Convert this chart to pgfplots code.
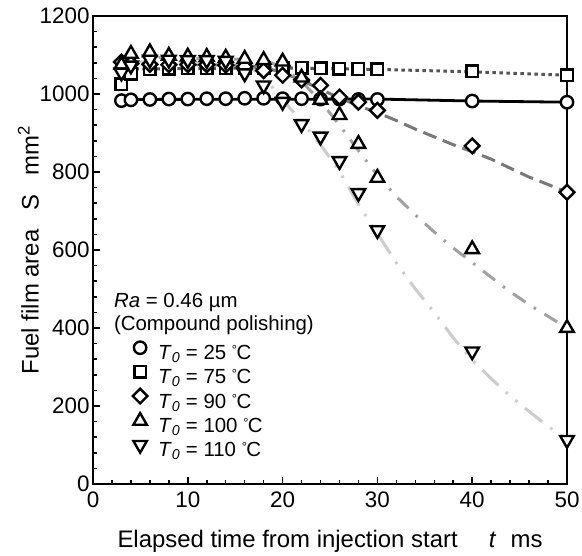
\documentclass[border=0pt]{standalone}
\usepackage{pgfplots}
\pgfplotsset{compat=1.18}
\usepackage{fontspec}
\setmainfont{Liberation Sans}
\newcommand{\degC}{\raisebox{5bp}{\fontsize{13}{13}\selectfont °}\kern-0.5bp C}
\newcommand{\Tz}{\textit{T}\textsubscript{\textit{0}}}
\definecolor{c75}{gray}{0.33}
\definecolor{c90}{gray}{0.47}
\definecolor{c100}{gray}{0.63}
\definecolor{c110}{gray}{0.80}
\begin{document}
\begin{tikzpicture}
\useasboundingbox (-93bp,-72bp) rectangle (489bp,484bp);
\begin{axis}[
  width=474bp, height=468bp, scale only axis,
  xmin=0, xmax=50, ymin=0, ymax=1200,
  xtick={0,10,...,50}, ytick={0,200,...,1200},
  minor x tick num=4, minor y tick num=4,
  xtick pos=bottom, ytick pos=left,
  tick align=inside,
  major tick length=7bp, minor tick length=4bp,
  axis line style={line width=2.4bp},
  tick style={line width=1.5bp, black},
  tick label style={font=\fontsize{22.5}{26}\selectfont},
  xticklabel style={yshift=-4bp},
  /pgf/number format/assume math mode=true,
  /pgf/number format/1000 sep={},
  label style={font=\fontsize{24}{28}\selectfont},
  xlabel style={yshift=-16bp},
  ylabel style={yshift=-6bp},
  xlabel={Elapsed time from injection start\hspace{1.3em}\textit{t}\hspace{0.6em}ms},
  ylabel={Fuel film area\hspace{0.8em}S\hspace{0.8em}mm\textsuperscript{2}},
  clip=false,
  legend style={at={(axis description cs:0.080,0.3066)}, anchor=north west,
    draw=none, fill=none, inner sep=0pt, font=\fontsize{20.5}{25}\selectfont,
    nodes={inner sep=0pt, text height=15bp, text depth=5bp},
    row sep=0bp, column sep=9bp},
  legend image code/.code={\path[draw=none, fill=none] (-9bp,0bp) rectangle (9bp,14bp);
    \draw[#1] plot coordinates {(0bp,7bp)};},
  legend cell align=left,
]
% fitted lines
\addplot[black, line width=2.8bp, forget plot] coordinates {(3,986)(30,987)(40,982)(50,979)};
\addplot[c75, line width=3bp, dash pattern=on 3.5bp off 3.5bp, forget plot] coordinates {(3,1064)(20,1067)(30,1063)(40,1057)(50,1048)};
\addplot[c90, line width=3bp, dash pattern=on 14bp off 7bp, forget plot] coordinates {
  (3,1078)(16,1074)(18,1068)(20,1055)(22,1035)(24,1012)(26,990)(28,970)(30,952)(32,932)
  (34,910)(36,890)(38,870)(40,852)(42,833)(44,810)(46,787)(48,768)(50,748)};
\addplot[c100, line width=3bp, dash pattern=on 15bp off 10bp on 2.5bp off 10bp, forget plot] coordinates {
  (3,1095)(18,1088)(20,1068)(22,1032)(24,982)(26,920)(28,855)(30,792)(32,737)(34,690)
  (36,646)(38,605)(40,568)(42,530)(44,493)(46,460)(48,430)(50,400)};
\addplot[c110, line width=3bp, dash pattern=on 22bp off 10bp on 2.5bp off 10bp on 2.5bp off 10bp, forget plot] coordinates {
  (3,1083)(15,1080)(16,1076)(18,1045)(20,985)(22,930)(24,870)(26,802)(28,717)(30,642)
  (32,567)(34,500)(36,440)(38,375)(40,318)(42,270)(44,226)(46,186)(48,148)(50,113)};
% measured points
\addplot[only marks, mark=*, mark size=6.2bp, mark options={draw=black, fill=white, line width=2.4bp}] coordinates {
  (3,983)(4,985)(6,986)(8,987)(10,987)(12,988)(14,988)(16,989)(18,989)(20,988)
  (22,988)(24,987)(26,987)(28,986)(30,986)(40,982)(50,979)};
\addlegendentry{\Tz{} = 25 \degC}
\addplot[only marks, mark=square*, mark size=5.8bp, mark options={draw=black, fill=white, line width=2.4bp}] coordinates {
  (3,1025)(4,1052)(6,1063)(8,1065)(10,1066)(12,1066)(14,1066)(16,1067)(18,1067)(20,1067)
  (22,1067)(24,1066)(26,1065)(28,1064)(30,1063)(40,1058)(50,1048)};
\addlegendentry{\Tz{} = 75 \degC}
\addplot[only marks, mark=square*, mark size=5.2bp, mark options={draw=black, fill=white, line width=2.4bp, rotate=45}] coordinates {
  (3,1082)(4,1078)(6,1076)(8,1075)(10,1075)(12,1075)(14,1074)(16,1070)(18,1060)(20,1048)
  (22,1036)(24,1022)(26,992)(28,979)(30,958)(40,867)(50,748)};
\addlegendentry{\Tz{} = 90 \degC}
\addplot[only marks, mark=triangle*, mark size=7.8bp, mark options={draw=black, fill=white, line width=2.4bp}] coordinates {
  (3,1075)(4,1103)(6,1107)(8,1098)(10,1096)(12,1095)(14,1093)(16,1090)(18,1087)(20,1083)
  (22,1042)(24,985)(26,946)(28,872)(30,785)(40,602)(50,400)};
\addlegendentry{\Tz{} = 100 \degC}
\addplot[only marks, mark=triangle*, mark size=7.8bp, mark options={draw=black, fill=white, line width=2.4bp, rotate=180}] coordinates {
  (3,1055)(4,1073)(6,1088)(8,1088)(10,1087)(12,1087)(14,1085)(16,1053)(18,1022)(20,980)
  (22,923)(24,891)(26,828)(28,746)(30,651)(40,340)(50,113)};
\addlegendentry{\Tz{} = 110 \degC}
\node[anchor=base west, inner sep=0pt, font=\fontsize{20.5}{25}\selectfont] at (axis cs:2.2,453) {\textit{Ra} = 0.46 µm};
\node[anchor=base west, inner sep=0pt, font=\fontsize{20.5}{25}\selectfont] at (axis cs:2.2,394) {(Compound polishing)};
\end{axis}
\end{tikzpicture}
\end{document}
